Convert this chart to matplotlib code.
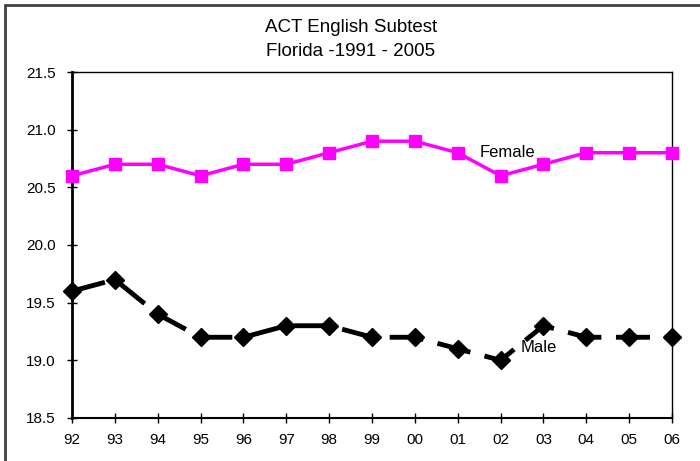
import matplotlib
matplotlib.use("Agg")
import matplotlib.pyplot as plt
from matplotlib.patches import Rectangle

years = ["92", "93", "94", "95", "96", "97", "98", "99", "00", "01", "02", "03", "04", "05", "06"]
female = [20.6, 20.7, 20.7, 20.6, 20.7, 20.7, 20.8, 20.9, 20.9, 20.8, 20.6, 20.7, 20.8, 20.8, 20.8]
male = [19.6, 19.7, 19.4, 19.2, 19.2, 19.3, 19.3, 19.2, 19.2, 19.1, 19.0, 19.3, 19.2, 19.2, 19.2]
yticks = [18.5, 19.0, 19.5, 20.0, 20.5, 21.0, 21.5]

plt.rcParams['font.family'] = ['Liberation Sans', 'DejaVu Sans']

fig = plt.figure(figsize=(7.0, 4.61), dpi=100)
ax = fig.add_axes([0.1029, 0.0933, 0.8571, 0.7505])

x = list(range(len(years)))
ax.plot(x, female, color='#FF00FF', lw=2.5, marker='s', markersize=8,
        clip_on=False, zorder=3)
ax.plot(x, male, color='black', lw=3.5, marker='D', markersize=9.5,
        dashes=(7, 3), clip_on=False, zorder=3)

ax.set_xlim(0, len(years) - 1)
ax.set_ylim(18.5, 21.5)
ax.set_xticks(x)
ax.set_xticklabels(years)
ax.set_yticks(yticks)
ax.set_yticklabels([f"{v:.1f}" for v in yticks])
ax.tick_params(direction='inout', length=7.5, width=1, labelsize=11, color='black')
ax.tick_params(axis='x', pad=7)
ax.tick_params(axis='y', pad=8)

for s in ['top', 'right']:
    ax.spines[s].set_linewidth(1.0)
ax.spines['left'].set_linewidth(2.0)
ax.spines['bottom'].set_linewidth(1.5)

ax.text(10.17, 20.80, "Female", ha='center', va='center', fontsize=12)
ax.text(10.9, 19.115, "Male", ha='center', va='center', fontsize=12)

fig.text(0.501, 1 - 28/461, "ACT English Subtest", ha='center', va='center', fontsize=13.5)
fig.text(0.501, 1 - 52/461, "Florida -1991 - 2005", ha='center', va='center', fontsize=13.5)

fig.patches.append(Rectangle((5/700, -0.05), 1.1, 1 - 5/461 + 0.05, transform=fig.transFigure,
                             fill=False, edgecolor='#404040', lw=2))

fig.savefig("out.png", dpi=100)
